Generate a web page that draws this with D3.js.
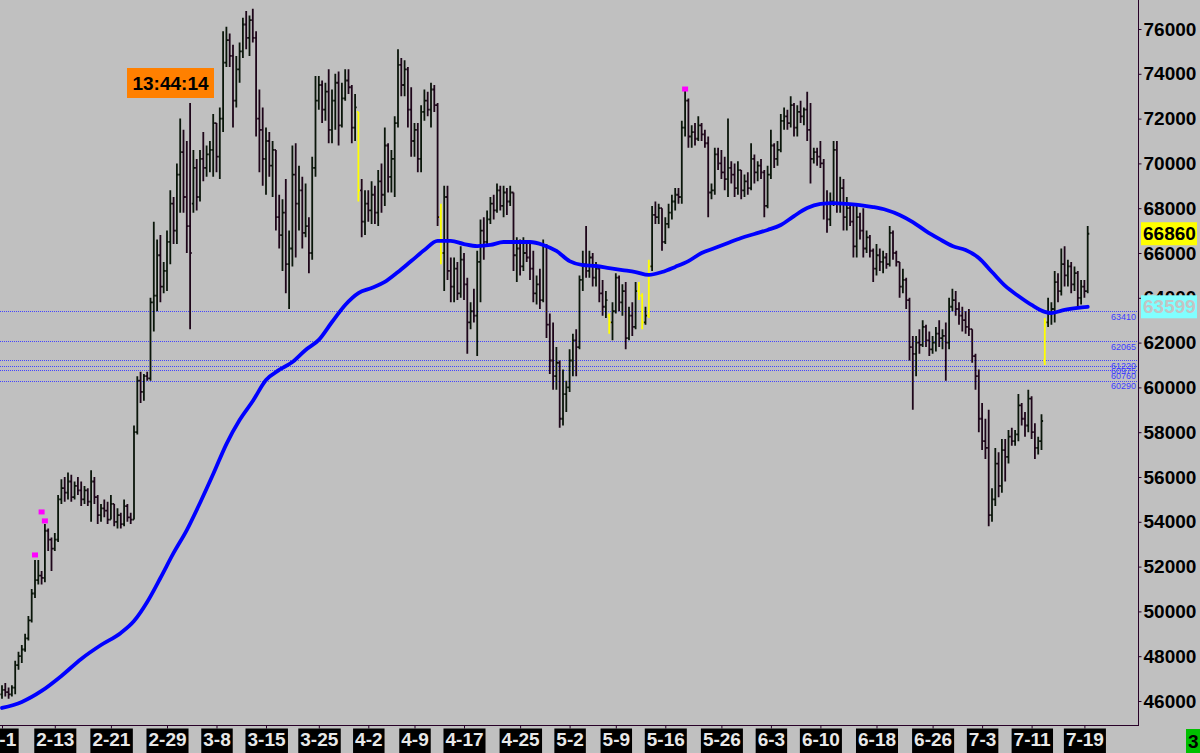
<!DOCTYPE html>
<html><head><meta charset="utf-8">
<script src="https://cdn.jsdelivr.net/npm/d3@7"></script>
<style>html,body{margin:0;padding:0;background:#c0c0c0;overflow:hidden}svg{display:block}</style>
</head><body><svg id="c" width="1200" height="753"></svg>
<script>
const opens=[46300,46500,46400,46300,46600,47600,48000,48300,48800,49600,
50800,51400,51600,51500,53600,53200,52800,53200,55000,55500,
55300,55800,55100,55600,55400,55000,55400,54900,55800,55100,
54300,54600,54500,54100,54800,54000,54300,53900,54700,54200,
54100,58000,60300,59800,60500,60400,63800,64100,65900,64500,
65200,66500,68200,67000,69500,70500,68500,67200,68200,69800,
68500,70200,69800,70400,70600,71800,70300,72000,74500,75500,
74800,72800,74200,75000,76200,75600,76400,75600,72000,71500,
70200,71000,69900,70600,67600,66800,67800,65500,66200,69500,
68200,68800,66900,67200,66000,69800,72800,73500,72400,73200,
71500,72800,73600,71700,72900,73700,73400,71600,72300,68800,
67400,68200,67900,68600,67800,69200,68600,70800,69400,70200,
71800,74400,73500,74200,72400,71000,71500,70200,72300,72800,
72400,73300,72600,67600,66000,68500,65200,64500,65300,64200,
65700,64600,62900,63400,63200,65600,67000,66500,67500,68200,
67900,68800,68100,68700,68300,68700,65900,66200,65400,66000,
65800,65300,64200,64600,63900,66300,62800,61200,60500,61100,
58600,59700,60000,61200,62100,61800,64800,65500,65200,65800,
64900,65300,64200,63600,63200,62900,63400,64900,63800,64300,
62200,63200,62700,64300,64100,62900,63200,65400,67700,67600,
68000,66500,67300,67800,68300,68600,68500,71600,72800,71200,
71400,71100,71700,71300,70900,68700,68800,70400,70000,69600,
69300,69800,69500,68900,69700,68800,69200,68900,70200,69600,
69900,69600,68100,69500,70800,70200,70600,71900,72100,71800,
72600,71600,72300,72100,72400,71500,70200,70500,70300,70000,
68200,67500,68300,70600,68200,68900,67600,68000,67400,66300,
67600,67000,66200,66700,66100,65300,65900,65600,65800,65500,
66900,66000,65600,64500,64800,63900,61800,61500,62000,61900,
62700,62100,61700,62000,62400,62200,62300,62000,63600,63900,
63500,63200,63000,62700,62600,61400,60500,58600,57600,57300,
54300,55000,56600,55600,57200,56900,57800,57600,57900,59200,
58600,58300,59500,58000,57300,57600,61200,62900,63300,63500,
64700,64300,65500,65000,65400,64600,65100,64000,64500,64300];
const highs=[46700,46800,46600,46700,47800,48200,48500,49000,49800,51000,
52300,52300,51800,53900,53700,53300,53500,55200,55900,56000,
56200,56100,55800,56000,55800,55600,55500,56300,56000,55200,
54800,55000,54900,55200,54800,54600,54400,55000,54800,54400,
58300,60500,60700,60600,60700,64000,67400,66600,66800,65600,
67000,68800,68500,70000,72000,71500,71000,72700,70600,70200,
70600,71400,70800,71000,72200,71800,72500,75900,76100,75800,
75300,74800,75400,76500,76800,76600,76900,75900,73300,72500,
71600,71400,71000,70600,68600,68400,69300,67000,70800,70900,
69900,69400,69100,67600,70300,73900,73900,73700,73600,74200,
73300,74000,74100,73600,74200,74200,73500,73100,72300,69300,
68800,68800,69200,69000,69700,70000,71600,70900,70600,72100,
75100,74700,74600,74300,73400,71800,71800,72600,73300,73200,
73600,73500,72700,68200,69000,69000,65800,65800,65600,66300,
66000,64900,63800,64400,66100,67500,67600,67900,68500,68600,
69100,69000,69000,68900,69000,68700,66700,66600,66700,66400,
66500,66100,65000,65300,66600,66400,63300,62900,61800,61200,
60800,60300,61700,62400,62600,65000,66100,67200,66100,66000,
65600,65400,64800,64300,63300,63800,65100,65000,64600,64700,
63600,63800,64700,64700,64200,63600,65700,68100,68300,68200,
68000,67600,68200,68600,68900,68900,71900,73400,72900,71700,
71800,72100,71800,71500,71200,69100,70700,70700,70600,70300,
72000,70100,70000,70100,69700,69500,69600,70900,70400,70100,
70200,69700,69900,71500,70900,71000,72200,72500,72400,73000,
72700,72600,72800,72500,73200,72700,70700,70700,71000,70200,
68800,68700,71000,71000,69400,69300,68500,68100,68100,68200,
67800,68000,67000,66800,66200,66400,66200,66100,66000,67200,
67000,66100,65600,65300,64900,64000,62300,62300,62600,63000,
62800,62500,62300,62700,63000,62600,62900,64000,64400,64300,
63800,63600,63400,63500,62600,61500,60800,59300,58600,59000,
55500,57300,57100,57700,57700,58100,58200,58100,59700,59300,
58900,59900,59600,58400,57800,58800,63100,64000,63800,65200,
65100,66200,66300,65700,65600,65400,65200,64800,64800,67200];
const lows=[46100,46200,46100,46200,46300,47400,47700,48200,48700,49500,
50600,51200,51200,51300,52700,51800,52700,53100,54800,54900,
55000,54900,55000,55200,54700,54800,54700,54000,54800,53900,
54000,54200,53900,54100,53800,53700,53700,53800,54000,53900,
54100,57900,59300,59400,60300,60300,62500,63400,63800,64200,
64300,65500,66400,66400,67800,67800,66000,62600,67800,67900,
68300,69200,69400,69600,69400,69600,69300,71400,74300,74300,
71600,72500,73600,74700,75100,74800,75400,71200,69600,69000,
68600,69400,68500,67000,66200,65200,64200,63500,65400,65800,
67000,66200,66700,65100,65700,69400,72400,71800,71900,70900,
70900,71500,70800,71600,72800,73100,70900,71000,68300,66700,
66800,67400,67300,67300,67200,67800,68100,68700,68700,68500,
71600,73000,73000,71600,70300,70300,69600,69600,71900,72100,
71600,72300,67200,65500,64300,64800,63800,63800,63900,64000,
63900,61500,62600,62900,61400,63800,65700,66300,67300,67500,
67800,67900,67600,67700,68100,65200,64700,65000,65200,65600,
64800,63800,63700,63500,63800,62200,60600,59900,59900,58200,
58300,58900,59800,60500,60500,61700,64300,64900,64900,64500,
64500,63800,63200,63100,62400,62100,63300,63400,63200,61700,
62100,62300,62600,63900,62600,62800,63100,65200,67300,67300,
66100,66400,67100,67500,67900,68200,68200,71200,70700,70700,
70800,71000,71000,70700,67600,68400,68600,69700,69300,68800,
68500,69100,68500,68600,68400,68500,68600,68800,69100,69200,
69300,67600,68000,69300,69800,69900,70500,71500,71500,71600,
71200,71200,71800,71700,71000,69100,70000,69900,69800,67500,
66900,67200,68100,67800,67800,67000,67000,67200,65800,65800,
66600,65800,66000,65800,64700,65000,65200,65100,65300,65400,
65700,65400,64000,64200,63500,61200,59000,60500,61500,61800,
61800,61400,61500,61600,61800,61700,60300,61700,63400,63200,
62800,62500,62400,62300,61100,59900,58000,57200,56800,53800,
54000,54700,55100,55300,55800,56600,57400,57400,57600,58300,
57800,58000,57700,56800,57000,57200,61000,62700,62800,62900,
63800,64100,64500,64500,64200,64300,63600,63700,64000,64200];
const closes=[46500,46400,46300,46600,47600,48000,48300,48800,49600,50800,
51400,51600,51500,53600,53200,52800,53200,55000,55500,55300,
55800,55100,55600,55400,55000,55400,54900,55800,55100,54300,
54600,54500,54100,54800,54000,54300,53900,54700,54200,54100,
58000,60300,59800,60500,60400,63800,64100,65900,64500,65200,
66500,68200,67000,69500,70500,68500,67200,66000,69800,68500,
70200,69800,70400,70600,71800,70300,72000,74500,75500,74800,
72800,74200,75000,76200,75600,76400,75600,72000,71500,70200,
71000,69900,70600,67600,66800,67800,65500,66200,69500,68200,
68800,66900,67200,66000,69800,72800,73500,72400,73200,71500,
72800,73600,71700,72900,73700,73400,71600,72500,68800,67400,
68200,67900,68600,67800,69200,68600,70800,69400,70200,71800,
74400,73500,74200,72400,71000,71500,70200,72300,72800,72400,
73300,72600,67600,66000,68500,65200,64500,65300,64200,65700,
64600,62900,63400,63200,65600,67000,66500,67500,68200,67900,
68800,68100,68700,68300,68700,65900,66200,65400,66000,65800,
65300,64200,64600,63900,66300,62800,61200,60500,61100,58600,
59700,60000,61200,62100,61800,64800,65500,65200,65800,64900,
65300,64200,63600,63900,62900,63400,64900,63800,64300,62200,
63200,62700,64300,64100,62900,63200,65400,67700,67600,68000,
66500,67300,67800,68300,68600,68500,71600,72800,71200,71400,
71100,71700,71300,70900,68700,68800,70400,70000,69600,69300,
69800,69500,68900,69700,68800,69200,68900,70200,69600,69900,
69600,68100,69500,70800,70200,70600,71900,72100,71800,72600,
71600,72300,72100,72400,71500,70200,70500,70300,70000,68200,
67500,68300,70600,68200,68900,67600,68000,67400,66300,67600,
67000,66200,66700,66100,65300,65900,65600,65800,65500,66900,
66000,65600,64500,64800,63900,61800,61500,62000,61900,62700,
62100,61700,62000,62400,62200,62300,62000,63600,63900,63500,
63200,63000,62700,62600,61400,60500,58600,57600,57300,54300,
55000,56600,55600,57200,56900,57800,57600,57900,59200,58600,
58300,59500,58000,57300,57600,58500,62900,63300,63500,64700,
64300,65500,65000,65400,64600,65100,64000,64500,64300,66860];
const highlightBars=[108,133,184,193,194,196,316];
const maIndex=[0,6,12,18,24,30,36,40,44,48,52,56,60,64,68,72,76,80,84,88,92,96,100,104,108,112,116,120,124,128,132,136,140,144,148,152,156,160,164,168,172,176,180,184,188,192,196,200,204,208,212,216,220,224,228,232,236,240,244,248,252,256,260,264,268,272,276,280,284,288,292,296,300,304,308,312,316,318,322,326,329];
const maValues=[45690,45960,46450,47120,47880,48500,49040,49570,50420,51490,52610,53630,54840,56130,57470,58540,59390,60330,60780,61130,61670,62120,62920,63680,64210,64440,64710,65150,65640,66130,66540,66540,66400,66310,66360,66490,66490,66490,66360,66090,65640,65460,65420,65330,65240,65150,65020,65150,65380,65640,66000,66220,66450,66670,66850,67030,67250,67650,68010,68190,68230,68190,68140,68050,67920,67700,67380,66980,66630,66310,66130,65780,65150,64530,64080,63680,63370,63320,63460,63550,63599];
const markerIndex=[10,12,13,207];
const markerValues=[52520,54440,54040,73320];
const levelValues=[63410,62065,61220,60975,60760,60290];
const levelLabels=["63410","62065","61220","60975","60760","60290"];
const priceTicks=[46000,48000,50000,52000,54000,56000,58000,60000,62000,64000,66000,68000,70000,72000,74000,76000];
const dateTickIndex=[0,16,33,50,65,80,96,111,125,140,157,172,186,201,218,233,248,265,282,297,312,328];
const dateTickLabels=["2-1","2-13","2-21","2-29","3-8","3-15","3-25","4-2","4-9","4-17","4-25","5-2","5-9","5-16","5-26","6-3","6-10","6-18","6-26","7-3","7-11","7-19"];
const lastPrice=66860;
const maLast=63599;
const clockText="13:44:14";
const barCountText="3";

const svg=d3.select('#c');
const W=1200,H=753,plotR=1138,plotB=725;
const FONT="'Liberation Sans', Arial, sans-serif";
const N=closes.length;
const x=d3.scaleLinear().domain([0,N-1]).range([2,1087.7]);
const y=d3.scaleLinear().domain([46000,76000]).range([701,29]);

svg.append('rect').attr('width',W).attr('height',H).attr('fill','#c0c0c0');
svg.append('defs').append('clipPath').attr('id','plot').append('rect').attr('x',0).attr('y',0).attr('width',plotR).attr('height',plotB);
const plot=svg.append('g').attr('clip-path','url(#plot)');

// level lines
plot.selectAll('line.lvl').data(levelValues).join('line').attr('class','lvl')
 .attr('x1',0).attr('x2',plotR).attr('y1',d=>Math.round(y(d))+0.5).attr('y2',d=>Math.round(y(d))+0.5)
 .attr('stroke','#4444ff').attr('stroke-width',1).attr('stroke-dasharray','1,1');

// bars
const hl=new Set(highlightBars);
const t=1.6;
plot.selectAll('path.bar').data(d3.range(N)).join('path').attr('class','bar')
 .attr('d',i=>{const xx=x(i);return `M${xx},${y(highs[i])}V${y(lows[i])}M${xx-t},${y(opens[i])}H${xx}M${xx},${y(closes[i])}H${xx+t}`;})
 .attr('fill','none')
 .attr('stroke',i=>hl.has(i)?'#ffff00':(closes[i]>=opens[i]?'#0a160a':'#1e061a'))
 .attr('stroke-width',1.8);

// moving average
const maLine=d3.line().x(d=>x(d[0])).y(d=>y(d[1])).curve(d3.curveMonotoneX);
plot.append('path').datum(maIndex.map((d,k)=>[d,maValues[k]])).attr('d',maLine)
 .attr('fill','none').attr('stroke','#0000ff').attr('stroke-width',3.8).attr('stroke-linecap','round');

// markers
plot.selectAll('rect.mk').data(markerIndex).join('rect').attr('class','mk')
 .attr('x',(d,k)=>x(d)-3).attr('y',(d,k)=>y(markerValues[k])-2.5).attr('width',6).attr('height',5).attr('fill','#ff00ff');

// clock box
svg.append('rect').attr('x',127).attr('y',68).attr('width',87).attr('height',30).attr('fill','#ff8000');
svg.append('text').attr('x',170.5).attr('y',90).attr('text-anchor','middle').attr('font-family',FONT).attr('font-weight','bold').attr('font-size',19).attr('fill','#000').text(clockText);

// level labels
svg.selectAll('text.lvl').data(levelValues).join('text').attr('class','lvl')
 .attr('x',1136).attr('y',d=>y(d)+8.5).attr('text-anchor','end').attr('font-family',FONT).attr('font-size',9).attr('fill','#3c3cff')
 .text((d,k)=>levelLabels[k]);

// frame
svg.append('line').attr('x1',plotR+0.5).attr('x2',plotR+0.5).attr('y1',0).attr('y2',plotB+1).attr('stroke','#280028').attr('stroke-width',1);
svg.append('line').attr('x1',0).attr('x2',plotR+1).attr('y1',plotB+0.5).attr('y2',plotB+0.5).attr('stroke','#280028').attr('stroke-width',1);

// right axis
const ay=d3.axisRight(y).tickValues(priceTicks).tickSize(3).tickPadding(2).tickFormat(d3.format('d'));
const gy=svg.append('g').attr('transform',`translate(${plotR+0.5},0)`).call(ay);
gy.select('.domain').remove();
gy.selectAll('line').attr('stroke','#280028');
gy.selectAll('text').attr('font-family',FONT).attr('font-weight','bold').attr('font-size',19).attr('fill','#000');

// last value boxes
function valBox(v,fill,txt){
 const cy=y(v);
 svg.append('rect').attr('x',1141).attr('y',cy-11.5).attr('width',56).attr('height',23).attr('fill',fill);
 svg.append('text').attr('x',1143).attr('y',cy).attr('dy','0.35em').attr('font-family',FONT).attr('font-weight','bold').attr('font-size',19).attr('fill',txt).text(d3.format('d')(v));
}
valBox(lastPrice,'#ffff00','#000');
valBox(maLast,'#80ffff','#c4c4c4');

// bottom axis
const ax=d3.axisBottom(x).tickValues(dateTickIndex).tickSize(3).tickFormat((d,k)=>dateTickLabels[k]);
const gx=svg.append('g').attr('transform',`translate(0,${plotB+0.5})`).call(ax);
gx.select('.domain').remove();
gx.selectAll('line').attr('stroke','#280028');
gx.selectAll('.tick').each(function(){
 const g=d3.select(this);
 const tx=g.select('text').attr('font-family',FONT).attr('font-weight','bold').attr('font-size',19).attr('fill','#e8e8e8').attr('y',20).attr('dy',0);
 const bb=tx.node().getBBox();
 g.insert('rect','text').attr('x',bb.x-2).attr('y',3).attr('width',bb.width+4).attr('height',26).attr('fill','#000');
});

// bar count box
svg.append('rect').attr('x',1186).attr('y',729).attr('width',14).attr('height',24).attr('fill','#00c000');
svg.append('text').attr('x',1188).attr('y',748).attr('font-family',FONT).attr('font-weight','bold').attr('font-size',19).attr('fill','#000').text(barCountText);
</script></body></html>
